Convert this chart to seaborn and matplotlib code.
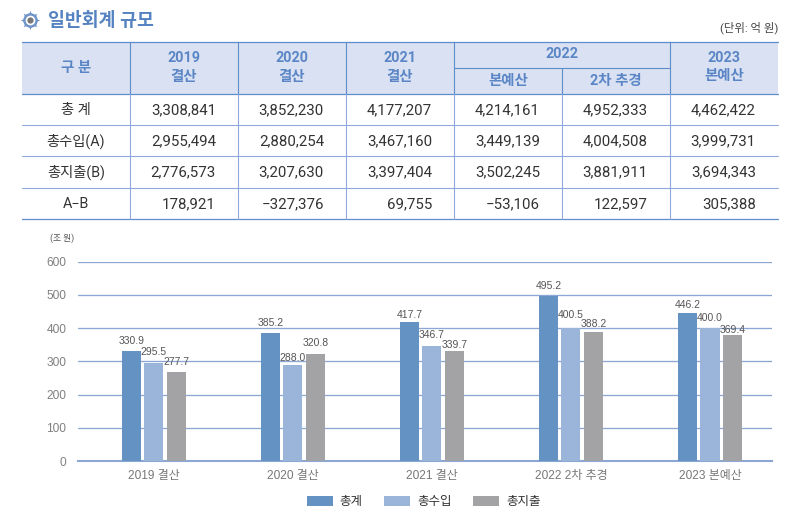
import pandas as pd
import seaborn as sns
import matplotlib.pyplot as plt

# chart data (조 원)
years = ['2019 결산', '2020 결산', '2021 결산', '2022 2차 추경', '2023 본예산']
series = ['총계', '총수입', '총지출']
total = [330.9, 385.2, 417.7, 495.2, 446.2]
revenue = [295.5, 288.0, 346.7, 400.5, 400.0]
# printed labels for 총지출
spending = [277.7, 320.8, 339.7, 388.2, 369.4]
# the source bars for 총지출 do not agree with their labels in 3 places, so heights are read off the bars
spending_bars = [268, 320.8, 331, 388.2, 379]
yticks = [0, 100, 200, 300, 400, 500, 600]

# table data (억 원)
row_names = ['총 계', '총수입(A)', '총지출(B)', 'A−B']
row_total = ['3,308,841', '3,852,230', '4,177,207', '4,214,161', '4,952,333', '4,462,422']
row_rev = ['2,955,494', '2,880,254', '3,467,160', '3,449,139', '4,004,508', '3,999,731']
row_spend = ['2,776,573', '3,207,630', '3,397,404', '3,502,245', '3,881,911', '3,694,343']
row_diff = ['178,921', '−327,376', '69,755', '−53,106', '122,597', '305,388']

BLUE_TXT = '#5B86C6'
LINE = '#5F8CCB'
LINE2 = '#8FA9DC'
HEAD = '#D9E1F2'
GRID = '#8CA7D4'
colors = ['#6392C3', '#9AB4DA', '#A3A3A5']

sns.set_theme(style='white')
plt.rcParams['font.family'] = ['Roboto', 'Noto Sans CJK KR', 'DejaVu Sans']

W, H = 804, 530
fig = plt.figure(figsize=(W / 100, H / 100), dpi=100)

# layer in pixel units for the title and table
bg = fig.add_axes([0, 0, 1, 1])
bg.set_xlim(0, W)
bg.set_ylim(H, 0)
bg.axis('off')

# gear icon
bg.plot([30], [20], marker=(8, 1, 0), ms=14, color='#6F94C8', mew=0)
bg.plot([30], [20], marker='o', ms=10.5, color='#6F94C8', mew=0)
bg.plot([30], [20], marker='o', ms=7, color='white', mew=0)
bg.plot([30], [20], marker='o', ms=4.5, color='#777777', mew=0)
bg.text(48, 20.5, '일반회계 규모', fontsize=13.2, color='#5583C2', weight='bold', va='center', ha='left')
bg.text(778, 28, '(단위: 억 원)', fontsize=8.2, color='#444444', va='center', ha='right')

xs = [22, 130, 238, 346, 454, 562, 670, 778]
ys = [42.3, 94.3, 125.3, 156.3, 188.3, 219.3]

bg.fill_between([xs[0], xs[-1]], ys[0], ys[1], color=HEAD, lw=0)
for y in ys[2:5]:
    bg.plot([xs[0], xs[-1]], [y, y], color=LINE2, lw=0.8)
for y in [ys[0], ys[1], ys[5]]:
    bg.plot([xs[0], xs[-1]], [y, y], color=LINE, lw=0.9)
bg.plot([xs[4], xs[6]], [68.3, 68.3], color=LINE, lw=0.8)
for x in xs[1:-1]:
    if x == xs[5]:
        bg.plot([x, x], [68.3, ys[1]], color=LINE, lw=0.8)
    else:
        bg.plot([x, x], [ys[0], ys[1]], color=LINE, lw=0.8)
    bg.plot([x, x], [ys[1], ys[5]], color=LINE2, lw=0.8)


def head(x, y, s):
    bg.text(x, y, s, fontsize=10.4, color=BLUE_TXT, weight='bold', ha='center', va='center')


head(76, 68, '구 분')
head(184, 58, '2019')
head(184, 77, '결산')
head(292, 58, '2020')
head(292, 77, '결산')
head(400, 58, '2021')
head(400, 77, '결산')
head(562, 54, '2022')
head(508, 81, '본예산')
head(616, 81, '2차 추경')
head(724, 58, '2023')
head(724, 76, '본예산')

rows = [row_total, row_rev, row_spend, row_diff]
for i, (name, vals) in enumerate(zip(row_names, rows)):
    yc = (ys[i + 1] + ys[i + 2]) / 2
    bg.text(76, yc, name, fontsize=10.3, color='#333333', ha='center', va='center')
    for j, v in enumerate(vals):
        bg.text(xs[j + 2] - 22, yc, v, fontsize=10.8, color='#333333', ha='right', va='center')

bg.text(50, 238, '(조 원)', fontsize=6.3, color='#555555', ha='left', va='center')

# bar chart, digits here are closer to Helvetica
plt.rcParams['font.family'] = ['Liberation Sans', 'Noto Sans CJK KR', 'DejaVu Sans']

df = pd.DataFrame({'year': years * 3,
                   'kind': [s for s in series for _ in years],
                   'value': total + revenue + spending_bars})

ax = fig.add_axes([78 / W, 1 - 461 / H, (772 - 78) / W, (461 - 261.5) / H])
ax.patch.set_alpha(0)
sns.barplot(data=df, x='year', y='value', hue='kind', palette=colors, saturation=1,
            width=0.486, gap=0.155, linewidth=0, ax=ax, zorder=3)
ax.set_xlim(-0.546, 4.446)
ax.set_ylim(0, 600)
ax.set_yticks(yticks)
ax.set_xlabel('')
ax.set_ylabel('')
ax.yaxis.grid(True, color=GRID, lw=0.95)
ax.xaxis.grid(False)
ax.set_axisbelow(True)
sns.despine(ax=ax, left=True)
ax.spines['bottom'].set_color(GRID)
ax.spines['bottom'].set_linewidth(1.5)
ax.tick_params(axis='x', length=0, labelsize=8.6, labelcolor='#777777', pad=6.5)
ax.tick_params(axis='y', length=0, labelsize=8.6, labelcolor='#808080', pad=8.5)

# label centre above the bar top, in px, the source spacing is uneven
label_gaps = [[10, 10, 7, 10, 8],
              [11, 7, 11, 13, 10],
              [10, 11, 6, 8, 5]]
labels = [total, revenue, spending]
for c, vals, gaps in zip(ax.containers, labels, label_gaps):
    for bar, v, g in zip(c, vals, gaps):
        ax.annotate(f'{v:.1f}', (bar.get_x() + bar.get_width() / 2, bar.get_height()),
                    xytext=(0, g * 0.72), textcoords='offset points', ha='center', va='center',
                    fontsize=7.5, color='#555555', zorder=5)

handles = ax.get_legend_handles_labels()[0]
ax.legend(handles, series, loc='center', bbox_to_anchor=(423.7 / W, 1 - 502 / H),
          bbox_transform=fig.transFigure, ncol=3, frameon=False, fontsize=9,
          handlelength=2.08, handleheight=0.86, handletextpad=0.56, columnspacing=1.72,
          labelcolor='#333333', borderpad=0, borderaxespad=0)

fig.savefig('out.png', dpi=100)
